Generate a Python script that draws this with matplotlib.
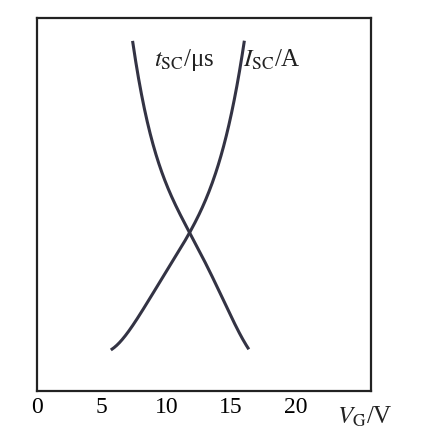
import numpy as np
import matplotlib
matplotlib.use("Agg")
import matplotlib.pyplot as plt

plt.rcParams['font.family'] = ['Liberation Serif', 'DejaVu Serif']
plt.rcParams['mathtext.fontset'] = 'stix'

# (y axis has no scale, 0-100 arbitrary)
vg_isc = [5.8, 7.5, 9.5, 11.7, 13.5, 15.0, 16.0]
isc = [11, 19, 28, 42.6, 56, 73, 94]
vg_tsc = [7.4, 8.5, 10.0, 11.7, 13.5, 15.0, 16.3]
tsc = [93.6, 72, 56, 42.6, 31, 20, 11.5]
xticks = [0, 5, 10, 15, 20]

def smooth(x, y):
    xs = np.linspace(x[0], x[-1], 200)
    c = np.polyfit(x, y, 4)
    return xs, np.polyval(c, xs)

fig = plt.figure(figsize=(4.21, 4.38), dpi=100)
ax = fig.add_axes([37/421, 47/438, 334/421, 373/438])

for x, y in [(vg_isc, isc), (vg_tsc, tsc)]:
    xs, ys = smooth(x, y)
    ax.plot(xs, ys, color='#333344', lw=2.2)

ax.set_xlim(0, 25.8)
ax.set_ylim(0, 100)
ax.set_xticks(xticks)
ax.set_xticklabels([str(t) for t in xticks], fontsize=17)
ax.set_yticks([])
ax.tick_params(axis='x', length=0, pad=4)
for s in ax.spines.values():
    s.set_linewidth(1.6)
    s.set_color('#222222')

ax.text(9.0, 87, r'$t_{\mathrm{SC}}$/μs', fontsize=18, color='#222222')
ax.text(15.9, 87, r'$I_{\mathrm{SC}}$/A', fontsize=18, color='#222222')
ax.text(23.2, -7.0, r'$V_{\mathrm{G}}$/V', fontsize=18, color='#222222', va='center', clip_on=False)

fig.savefig("out.png", dpi=100)
